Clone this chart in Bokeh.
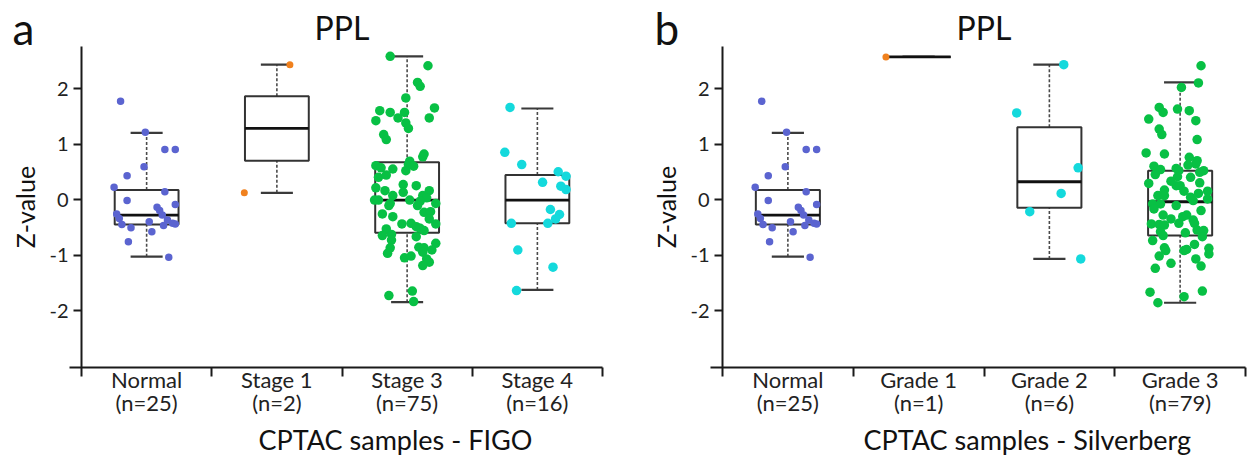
from bokeh.plotting import figure
from bokeh.layouts import row
from bokeh.models import FixedTicker, Label, Range1d, LinearAxis, Title
from bokeh.embed import file_html
from bokeh.resources import INLINE

FONT = "Lato"

# ---------------- data ----------------
labels_a = ["Normal\n(n=25)", "Stage 1\n(n=2)", "Stage 3\n(n=75)", "Stage 4\n(n=16)"]
labels_b = ["Normal\n(n=25)", "Grade 1\n(n=1)", "Grade 2\n(n=6)", "Grade 3\n(n=79)"]
y_ticks = [-2, -1, 0, 1, 2]
y_tick_labels = {-2: "-2", -1: "-1", 0: "0", 1: "1", 2: "2"}

normal_vals = [1.77, 1.21, 0.90, 0.90, 0.59, 0.43, 0.22, 0.14, -0.02, -0.09, -0.14, -0.20, -0.26,
               -0.28, -0.34, -0.37, -0.43, -0.44, -0.45, -0.40, -0.51, -0.47, -0.58, -0.76, -1.04]
normal_jit = [-0.20, -0.01, 0.14, 0.22, -0.02, -0.15, -0.25, 0.14, -0.15, 0.22, 0.08, 0.10, -0.23,
              0.12, -0.21, 0.16, 0.20, 0.22, -0.19, 0.02, -0.12, 0.13, 0.04, -0.14, 0.17]

stage1_vals = [2.43, 0.12]
stage1_jit = [0.10, -0.25]

stage3_vals = [2.58, 2.41, 2.11, 2.04, 1.83, 1.65, 1.60, 1.57, 1.57, 1.47, 1.47, 1.42, 1.38, 1.28,
               1.17, 1.08, 0.82, 0.77, 0.69, 0.63, 0.61, 0.57, 0.55, 0.52, 0.40, 0.44, 0.21, 0.16,
               0.27, 0.25, 0.13, 0.16, 0.07, 0.07, 0.03, -0.01, -0.01, -0.01, -0.03, -0.07, -0.07,
               -0.11, -0.11, -0.26, -0.23, -0.22, -0.31, -0.44, -0.43, -0.44, -0.49, -0.52, -0.56,
               -0.53, -0.65, -0.63, -0.73, -0.67, -0.79, -0.86, -0.87, -0.87, -0.91, -0.95, -0.97,
               -1.05, -1.02, -1.07, -1.13, -1.19, -1.73, -1.65, -1.84, 0.60, -0.35]
stage3_jit = [-0.13, 0.16, 0.08, 0.10, -0.01, 0.21, -0.21, -0.13, -0.02, -0.07, 0.17, -0.24, -0.01,
              0.01, -0.18, -0.16, 0.13, 0.12, 0.02, 0.01, -0.24, -0.20, -0.11, -0.01, -0.22, -0.16,
              -0.24, -0.17, -0.03, 0.07, -0.03, 0.17, -0.11, 0.12, 0.15, -0.25, -0.22, 0.02, 0.10,
              0.22, -0.13, -0.14, 0.08, -0.19, 0.13, 0.18, -0.11, -0.04, 0.03, 0.22, 0.07, 0.10,
              0.13, -0.16, -0.19, -0.12, -0.12, 0.07, 0.22, 0.09, 0.13, -0.13, 0.19, 0.12, -0.15,
              -0.02, 0.03, 0.15, 0.17, 0.12, -0.14, 0.04, 0.05, 0.05, 0.17]

stage4_vals = [1.66, 0.85, 0.63, 0.50, 0.42, 0.31, 0.24, 0.18, -0.18, -0.27, -0.35, -0.43, -0.43,
               -0.91, -1.22, -1.64]
stage4_jit = [-0.21, -0.25, -0.12, 0.16, 0.22, 0.04, 0.18, 0.22, 0.10, 0.17, 0.14, -0.20, 0.08,
              -0.15, 0.12, -0.16]

grade1_vals = [2.57]
grade1_jit = [-0.25]

grade2_vals = [1.56, 2.43, 0.57, 0.11, -0.22, -1.07]
grade2_jit = [-0.25, 0.11, 0.22, 0.09, -0.15, 0.24]

grade3_vals = [2.41, 2.10, 2.02, 1.66, 1.57, 1.63, 1.60, 1.45, 1.42, 1.27, 1.17, 1.08, 0.84, 0.82,
               0.76, 0.70, 0.64, 0.62, 0.60, 0.54, 0.56, 0.52, 0.52, 0.49, 0.41, 0.40, 0.29, 0.25,
               0.25, 0.15, 0.17, 0.07, 0.07, 0.15, 0.04, 0.11, 0.01, -0.02, -0.08, -0.08, -0.17,
               -0.11, -0.28, -0.31, -0.28, -0.37, -0.43, -0.44, -0.45, -0.46, -0.43, -0.55, -0.56,
               -0.58, -0.65, -0.67, -0.74, -0.87, -0.92, -0.92, -0.90, -0.81, -0.88, -0.98, -1.02,
               -1.07, -1.15, -1.20, -1.24, -1.67, -1.65, -1.75, -1.86, 0.33, -0.20, 0.45, -0.60,
               -0.35, 0.30]
grade3_jit = [0.16, 0.14, 0.01, -0.16, -0.13, -0.02, 0.07, -0.24, 0.12, -0.16, -0.14, 0.13, -0.26,
              -0.12, 0.07, 0.13, 0.12, 0.06, -0.20, -0.15, -0.03, -0.01, 0.18, 0.15, -0.02, 0.08,
              -0.24, -0.03, 0.00, 0.03, -0.12, -0.17, -0.12, 0.21, 0.08, 0.14, 0.21, 0.10, -0.21,
              -0.15, -0.20, -0.03, -0.13, 0.02, 0.05, 0.10, 0.11, -0.22, -0.16, -0.12, -0.01, 0.13,
              0.18, -0.15, -0.13, 0.17, -0.21, -0.12, -0.11, 0.03, 0.05, 0.11, 0.22, 0.22, -0.16,
              0.12, -0.07, 0.16, -0.19, -0.23, 0.17, 0.03, -0.17, -0.07, 0.16, -0.19, 0.04, -0.07,
              0.15]

# box statistics: whisker low, q1, median, q3, whisker high
box_a_lo = [-1.03, 0.12, -1.85, -1.63]
box_a_q1 = [-0.45, 0.70, -0.60, -0.43]
box_a_med = [-0.28, 1.28, -0.01, -0.01]
box_a_q3 = [0.17, 1.86, 0.67, 0.44]
box_a_hi = [1.20, 2.43, 2.58, 1.64]

box_b_lo = [-1.03, 2.57, -1.07, -1.86]
box_b_q1 = [-0.45, 2.57, -0.15, -0.65]
box_b_med = [-0.28, 2.57, 0.32, -0.04]
box_b_q3 = [0.17, 2.57, 1.30, 0.52]
box_b_hi = [1.20, 2.57, 2.43, 2.11]

Y_MIN, Y_MAX = -3.027, 2.757

C_BLUE = "#5b64d0"
C_ORANGE = "#f0811e"
C_GREEN = "#08c044"
C_CYAN = "#14d9dc"
C_TEXT = "#111111"
C_AXIS = "#1a1a1a"

BOX_HALF = 0.245
CAP_HALF = 0.123

# layout (pixels)
H = 464
FRAME_BOTTOM = 367      # canvas y of the x axis line
AXIS_TOP = 46           # canvas y of the top end of the y axis
BOTTOM_BORDER = H - FRAME_BOTTOM
LETTER_ANCHOR = 27      # canvas y of the letter's anchor
TITLE_ANCHOR = 27       # canvas y of the "PPL" anchor


def make_panel(letter, letter_x, labels, groups, lo, q1, med, q3, hi, xtitle,
               xtitle_x, width, axis_x, axis_right):
    # the frame fills the canvas (except the bottom axis band); y axis sits at x = 0
    px_per_unit = (axis_right - axis_x) / 4.0
    x_start = -axis_x / px_per_unit
    x_end = 4 + (width - axis_right) / px_per_unit
    py_per_unit = (FRAME_BOTTOM - AXIS_TOP) / (Y_MAX - Y_MIN)
    y_top = Y_MAX + AXIS_TOP / py_per_unit

    p = figure(width=width, height=H, output_backend="svg", toolbar_location=None,
               x_range=Range1d(x_start, x_end), y_range=Range1d(Y_MIN, y_top),
               x_axis_location=None, y_axis_location=None,
               min_border_left=0, min_border_right=0, min_border_top=0,
               min_border_bottom=BOTTOM_BORDER,
               background_fill_color="white", border_fill_color="white",
               outline_line_color=None)
    p.grid.visible = False

    # y axis, fixed at x = 0
    ya = LinearAxis(ticker=FixedTicker(ticks=y_ticks), axis_label="Z-value", fixed_location=0,
                    bounds=(Y_MIN, Y_MAX))
    ya.major_label_overrides = y_tick_labels
    ya.axis_label_text_font = FONT
    ya.axis_label_text_font_size = "25px"
    ya.axis_label_text_font_style = "normal"
    ya.axis_label_text_color = C_TEXT
    ya.axis_label_standoff = 6
    ya.major_label_text_font = FONT
    ya.major_label_text_font_size = "20px"
    ya.major_label_text_color = "#222222"
    ya.major_label_standoff = 5
    ya.major_tick_in = 0
    ya.major_tick_out = 8
    ya.minor_tick_out = 0
    ya.minor_tick_in = 0
    ya.axis_line_width = 2
    ya.major_tick_line_width = 2
    ya.axis_line_color = C_AXIS
    ya.major_tick_line_color = C_AXIS
    p.add_layout(ya, "left")

    # x axis: labels at category centres, tick marks at boundaries (minor ticks)
    xa = LinearAxis(ticker=FixedTicker(ticks=[0.5, 1.5, 2.5, 3.5], minor_ticks=[0, 1, 2, 3, 4]))
    xa.bounds = (-0.09, 4)
    xa.major_label_overrides = {0.5: labels[0], 1.5: labels[1], 2.5: labels[2], 3.5: labels[3]}
    xa.major_tick_line_color = None
    xa.major_tick_in = 0
    xa.major_tick_out = 0
    xa.minor_tick_in = 0
    xa.minor_tick_out = 9
    xa.minor_tick_line_width = 2
    xa.minor_tick_line_color = C_AXIS
    xa.axis_line_width = 2
    xa.axis_line_color = C_AXIS
    xa.major_label_standoff = -11
    xa.major_label_text_font = FONT
    xa.major_label_text_font_size = "22px"
    xa.major_label_text_line_height = 0.88
    xa.major_label_text_color = "#222222"
    p.add_layout(xa, "below")

    p.add_layout(Title(text=xtitle, align="left", offset=xtitle_x, text_font=FONT,
                       text_font_size="27px", text_font_style="normal", text_color=C_TEXT,
                       standoff=2), "below")

    centers = [0.5, 1.5, 2.5, 3.5]
    # whiskers (dashed)
    p.segment(x0=centers, x1=centers, y0=q3, y1=hi, line_color="#4a4a4a", line_width=1.6,
              line_dash="3 2")
    p.segment(x0=centers, x1=centers, y0=lo, y1=q1, line_color="#4a4a4a", line_width=1.6,
              line_dash="3 2")
    # caps
    cl = [c - CAP_HALF for c in centers]
    cr = [c + CAP_HALF for c in centers]
    p.segment(x0=cl, x1=cr, y0=hi, y1=hi, line_color="#3a3a3a", line_width=2.2)
    p.segment(x0=cl, x1=cr, y0=lo, y1=lo, line_color="#3a3a3a", line_width=2.2)
    # boxes
    bl = [c - BOX_HALF for c in centers]
    br = [c + BOX_HALF for c in centers]
    p.quad(left=bl, right=br, bottom=q1, top=q3, fill_color="white", line_color="#333333",
           line_width=2)
    p.segment(x0=bl, x1=br, y0=med, y1=med, line_color="#111111", line_width=2.8)

    # points
    for idx, (vals, jit, color, size) in enumerate(groups):
        xs = [centers[idx] + j for j in jit]
        p.scatter(x=xs, y=vals, size=size, fill_color=color, line_color=color, line_width=0)

    # panel letter and title (screen units from the frame's bottom-left corner)
    p.add_layout(Label(x=letter_x, y=FRAME_BOTTOM - LETTER_ANCHOR, x_units="screen",
                       y_units="screen", text=letter, text_font=FONT, text_font_size="44px",
                       text_color=C_TEXT, text_baseline="alphabetic", text_align="left"))
    p.add_layout(Label(x=(axis_x + axis_right) / 2, y=FRAME_BOTTOM - TITLE_ANCHOR,
                       x_units="screen", y_units="screen", text="PPL", text_font=FONT,
                       text_font_size="32px", text_color=C_TEXT, text_baseline="alphabetic",
                       text_align="center"))
    return p


groups_a = [(normal_vals, normal_jit, C_BLUE, 7.5), (stage1_vals, stage1_jit, C_ORANGE, 7),
            (stage3_vals, stage3_jit, C_GREEN, 9.5), (stage4_vals, stage4_jit, C_CYAN, 9.5)]
groups_b = [(normal_vals, normal_jit, C_BLUE, 7.5), (grade1_vals, grade1_jit, C_ORANGE, 7),
            (grade2_vals, grade2_jit, C_CYAN, 9.5), (grade3_vals, grade3_jit, C_GREEN, 9.5)]

pa = make_panel("a", 12, labels_a, groups_a, box_a_lo, box_a_q1, box_a_med, box_a_q3,
                box_a_hi, "CPTAC samples - FIGO", 258, 624, 81, 602)
pb = make_panel("b", 30, labels_b, groups_b, box_b_lo, box_b_q1, box_b_med, box_b_q3,
                box_b_hi, "CPTAC samples - Silverberg", 239, 625, 98, 621)

layout = row(pa, pb, spacing=0)
open("out.html", "w").write(file_html(layout, INLINE))
